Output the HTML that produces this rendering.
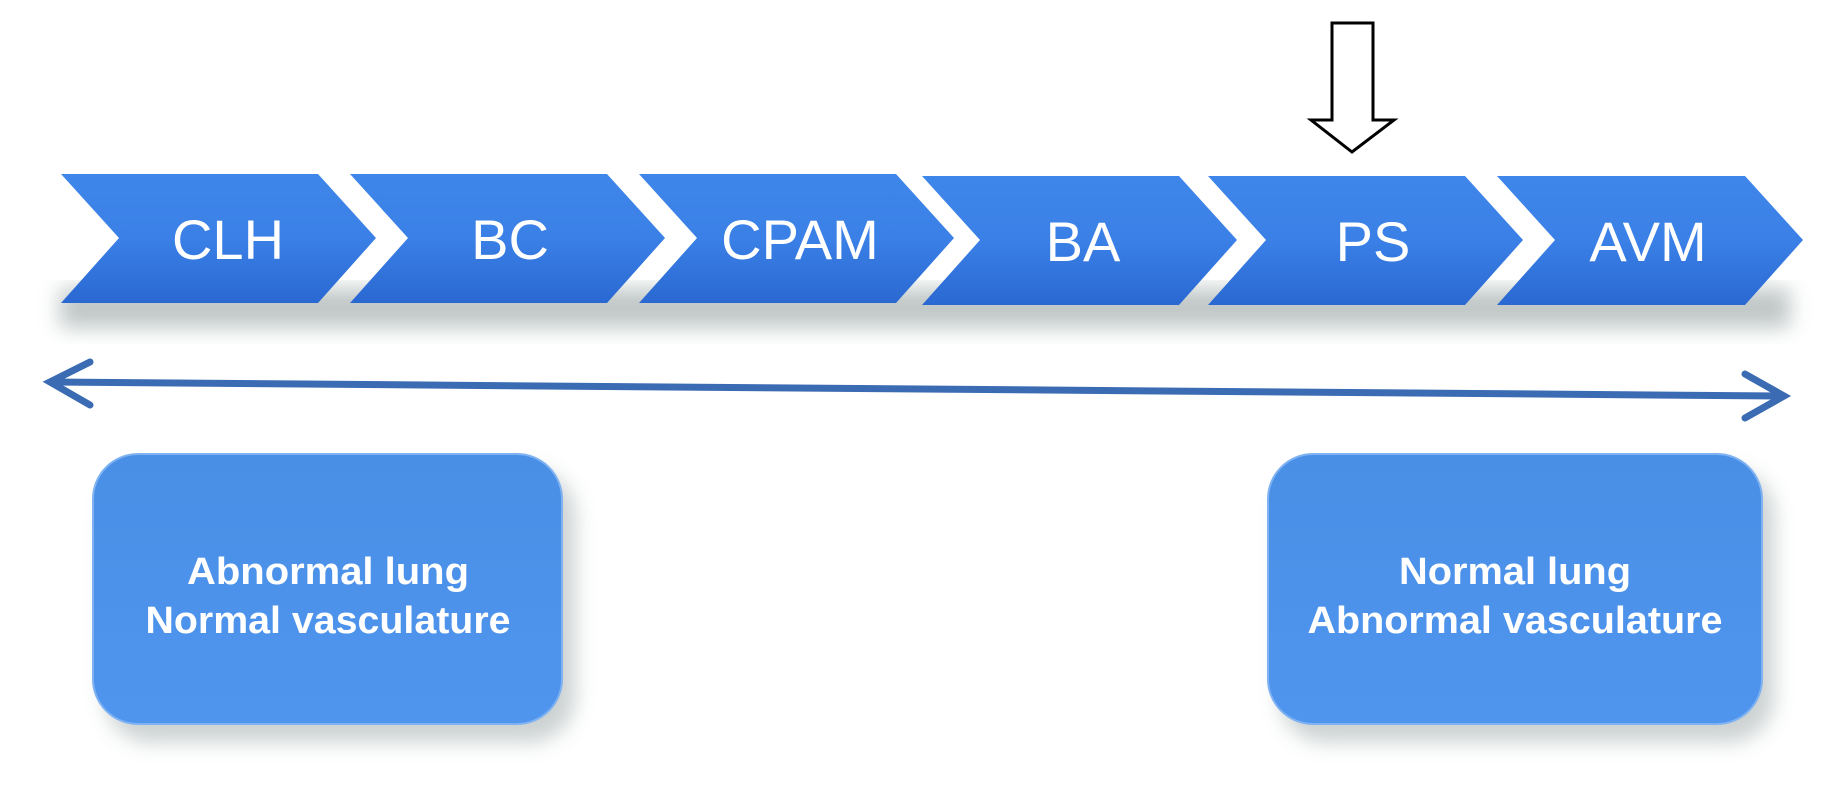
<!DOCTYPE html>
<html><head><meta charset="utf-8"><style>
html,body{margin:0;padding:0;background:#fff;}
svg{display:block;}
</style></head><body>
<svg width="1829" height="791" viewBox="0 0 1829 791" xmlns="http://www.w3.org/2000/svg">
<defs>
<linearGradient id="cg" x1="0" y1="0" x2="0" y2="1">
<stop offset="0" stop-color="#3f86ea"/><stop offset="0.5" stop-color="#3a80e6"/><stop offset="1" stop-color="#2a68d2"/>
</linearGradient>
<linearGradient id="bg" x1="0" y1="0" x2="0" y2="1">
<stop offset="0" stop-color="#4a8fe6"/><stop offset="1" stop-color="#4f95ee"/>
</linearGradient>
<filter id="sh" x="-20%" y="-20%" width="140%" height="160%"><feGaussianBlur stdDeviation="10"/></filter>
</defs>
<g font-family="'Liberation Sans', sans-serif" fill="#fff">
<g fill="#8e9a9a" opacity="0.55" filter="url(#sh)">
<rect x="60" y="288" width="1730" height="40"/>
</g>
<polygon points="61,174 318,174 376,238 318,303 61,303 119,238" fill="url(#cg)"/>
<polygon points="350,174 607,174 665,238 607,303 350,303 408,238" fill="url(#cg)"/>
<polygon points="639,174 896,174 954,238 896,303 639,303 697,238" fill="url(#cg)"/>
<polygon points="922,176 1179,176 1237,240 1179,305 922,305 980,240" fill="url(#cg)"/>
<polygon points="1208,176 1465,176 1523,240 1465,305 1208,305 1266,240" fill="url(#cg)"/>
<polygon points="1497,176 1745,176 1803,240 1745,305 1497,305 1555,240" fill="url(#cg)"/>
<g font-size="56" text-anchor="middle">
<text x="228" y="259">CLH</text>
<text x="510" y="259">BC</text>
<text x="800" y="259">CPAM</text>
<text x="1083" y="261">BA</text>
<text x="1373" y="261">PS</text>
<text x="1648" y="261">AVM</text>
</g>
<polygon points="1332,23 1373,23 1373,120 1394,120 1352,152 1311,120 1332,120" fill="#fff" stroke="#000" stroke-width="3"/>
<g stroke="#3a6bb3" stroke-width="7" stroke-linecap="round" fill="none">
<line x1="52" y1="382" x2="1782" y2="396"/>
<polyline points="90,362 50,382 90,405"/>
<polyline points="1745,374 1784,396 1745,418"/>
</g>
<rect x="105" y="470" width="470" height="272" rx="45" fill="#8e9a9a" opacity="0.45" filter="url(#sh)"/>
<rect x="1280" y="470" width="494" height="272" rx="45" fill="#8e9a9a" opacity="0.45" filter="url(#sh)"/>
<rect x="93" y="454" width="469" height="270" rx="45" fill="url(#bg)" stroke="#7fb2f2" stroke-width="2"/>
<rect x="1268" y="454" width="494" height="270" rx="45" fill="url(#bg)" stroke="#7fb2f2" stroke-width="2"/>
<g font-size="38" font-weight="bold" text-anchor="middle">
<text x="328" y="584" textLength="282" lengthAdjust="spacingAndGlyphs">Abnormal lung</text>
<text x="328" y="633" textLength="365" lengthAdjust="spacingAndGlyphs">Normal vasculature</text>
<text x="1515" y="584" textLength="232" lengthAdjust="spacingAndGlyphs">Normal lung</text>
<text x="1515" y="633" textLength="415" lengthAdjust="spacingAndGlyphs">Abnormal vasculature</text>
</g>
</g>
</svg>
</body></html>
